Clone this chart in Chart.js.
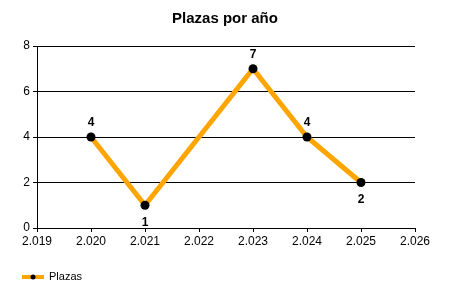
<!DOCTYPE html>
<html>
<head>
<meta charset="utf-8">
<script src="https://cdn.jsdelivr.net/npm/chart.js@4/dist/chart.umd.min.js"></script>
<style>
  html, body { margin: 0; padding: 0; background: #fff; }
  #wrap { width: 450px; height: 300px; position: relative; }
</style>
</head>
<body>
<div id="wrap"><canvas id="chart" width="450" height="300"></canvas></div>
<script>
// --- datos ---
const years    = [2020, 2021, 2022, 2023, 2024, 2025];
const plazas   = [4, 1, null, 7, 4, 2];
const labelPos = ['above', 'below', null, 'above', 'above', 'below'];
const xTicks   = [2019, 2020, 2021, 2022, 2023, 2024, 2025, 2026];
const yTicks   = [0, 2, 4, 6, 8];
const titulo   = 'Plazas por año';

const FONT = "'Liberation Sans', Arial, sans-serif";

// 2019 -> "2.019"
const fmtMiles = v => String(v).replace(/\B(?=(\d{3})+(?!\d))/g, '.');

const points = years
  .map((y, i) => ({ x: y, y: plazas[i], pos: labelPos[i] }))
  .filter(p => p.y !== null);

// titulo centrado en todo el lienzo (no solo en el area del grafico)
const tituloCentro = {
  id: 'tituloCentro',
  afterDraw(chart) {
    const ctx = chart.ctx;
    ctx.save();
    ctx.font = 'bold 15px ' + FONT;
    ctx.fillStyle = '#000';
    ctx.textAlign = 'center';
    ctx.textBaseline = 'middle';
    ctx.fillText(titulo, chart.width / 2, 19);
    ctx.restore();
  }
};

// etiquetas de valor sobre/bajo los puntos
const valueLabels = {
  id: 'valueLabels',
  afterDatasetsDraw(chart) {
    const ctx = chart.ctx;
    const meta = chart.getDatasetMeta(0);
    ctx.save();
    ctx.font = 'bold 12px ' + FONT;
    ctx.fillStyle = '#000';
    ctx.textAlign = 'center';
    ctx.textBaseline = 'middle';
    meta.data.forEach((pt, i) => {
      const d = points[i];
      const dy = d.pos === 'below' ? 17 : -14;
      ctx.fillText(String(d.y), pt.x, pt.y + dy);
    });
    ctx.restore();
  }
};

// leyenda abajo a la izquierda
const legendLeft = {
  id: 'legendLeft',
  afterDraw(chart) {
    const ctx = chart.ctx;
    ctx.save();
    ctx.strokeStyle = '#FFA500';
    ctx.lineWidth = 4;
    ctx.beginPath();
    ctx.moveTo(22, 277);
    ctx.lineTo(44, 277);
    ctx.stroke();
    ctx.fillStyle = '#000';
    ctx.beginPath();
    ctx.arc(33, 277, 2.5, 0, Math.PI * 2);
    ctx.fill();
    ctx.font = '11px ' + FONT;
    ctx.textBaseline = 'middle';
    ctx.textAlign = 'left';
    ctx.fillText('Plazas', 49, 277);
    ctx.restore();
  }
};

new Chart(document.getElementById('chart'), {
  type: 'line',
  data: {
    datasets: [{
      label: 'Plazas',
      data: points,
      borderColor: '#FFA500',
      borderWidth: 5,
      pointRadius: 4.5,
      pointHoverRadius: 4.5,
      pointBackgroundColor: '#000',
      pointBorderWidth: 0,
      tension: 0,
      fill: false
    }]
  },
  options: {
    responsive: false,
    animation: false,
    layout: { padding: { left: 0, right: 35, top: 46, bottom: 0 } },
    plugins: {
      legend: { display: false },
      tooltip: { enabled: false },
      title: { display: false }
    },
    scales: {
      x: {
        type: 'linear',
        min: 2019,
        max: 2026,
        afterBuildTicks: s => { s.ticks = xTicks.map(v => ({ value: v })); },
        afterFit: s => { s.height = 72; },
        ticks: {
          color: '#000',
          font: { family: FONT, size: 12 },
          padding: 2,
          maxRotation: 0,
          callback: v => fmtMiles(v)
        },
        grid: { drawOnChartArea: false, drawTicks: true, tickLength: 4, color: '#000' },
        border: { color: '#000', width: 1 }
      },
      y: {
        min: 0,
        max: 8,
        afterBuildTicks: s => { s.ticks = yTicks.map(v => ({ value: v })); },
        afterFit: s => { s.width = 37; },
        ticks: {
          color: '#000',
          font: { family: FONT, size: 12 },
          padding: 3
        },
        grid: { color: '#000', tickLength: 4, lineWidth: 1 },
        border: { color: '#000', width: 1 }
      }
    }
  },
  plugins: [valueLabels, legendLeft, tituloCentro]
});
</script>
</body>
</html>
